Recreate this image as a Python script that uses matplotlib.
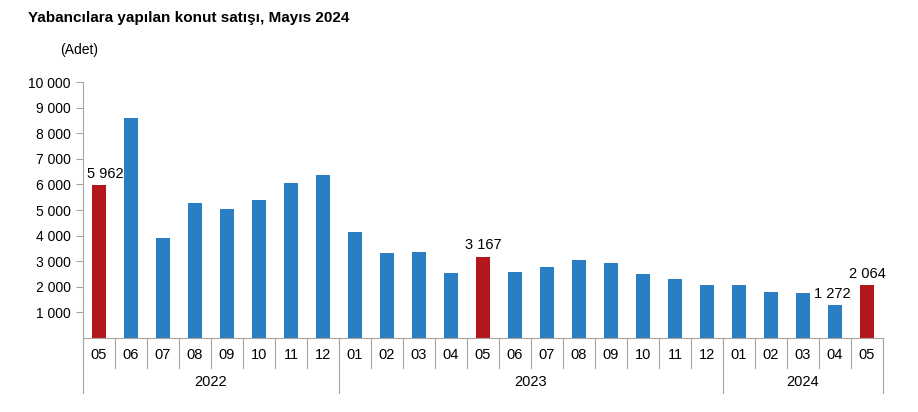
import matplotlib
matplotlib.use("Agg")
import matplotlib.pyplot as plt
import matplotlib.transforms as mtransforms

plt.rcParams['font.family'] = ['Liberation Sans', 'DejaVu Sans']

# Veriler (Adet)
months = ["05", "06", "07", "08", "09", "10", "11", "12",
          "01", "02", "03", "04", "05", "06", "07", "08", "09", "10", "11", "12",
          "01", "02", "03", "04", "05"]
years = ["2022", "2023", "2024"]
year_counts = [8, 12, 5]
sales = [5962, 8600, 3900, 5270, 5040, 5390, 6050, 6370,
         4150, 3320, 3370, 2530, 3167, 2590, 2790, 3040, 2930, 2490, 2300, 2060,
         2070, 1810, 1760, 1272, 2064]
highlight = [0, 12, 24]
labelled = [0, 12, 23, 24]

blue = "#2A7FC4"
red = "#B2181B"
grey = "#A6A6A6"

fig = plt.figure(figsize=(9.18, 4.12), dpi=100)
ax = fig.add_axes([83 / 918, 74 / 412, 800 / 918, 256 / 412])

x = list(range(len(sales)))
colors = [red if i in highlight else blue for i in x]
ax.bar(x, sales, width=0.42, color=colors)

label_shift = {0: 0.2, 23: -0.08}
for i in labelled:
    txt = f"{sales[i]:,}".replace(",", " ")
    ax.text(i + label_shift.get(i, 0), sales[i] + 180, txt, ha="center",
            va="bottom", fontsize=10.5)

ax.set_xlim(-0.5, len(sales) - 0.5)
ax.set_ylim(0, 10000)
ax.set_yticks(range(1000, 10001, 1000))
ax.set_yticklabels([f"{v:,}".replace(",", " ") for v in range(1000, 10001, 1000)],
                   fontsize=10)
ax.tick_params(axis="y", length=5, color=grey, pad=4)
ax.set_xticks([])

for s in ["top", "right"]:
    ax.spines[s].set_visible(False)
ax.spines["left"].set_color(grey)
ax.spines["bottom"].set_color(grey)

# kategori ekseni: ay etiketleri ve ayırıcı çizgiler
trans = mtransforms.blended_transform_factory(ax.transData, ax.transAxes)
for i, m in enumerate(months):
    ax.text(i, -0.065, m, transform=trans, ha="center", va="center", fontsize=10.5)
for i in range(len(months) + 1):
    ax.plot([i - 0.5, i - 0.5], [0, -0.117], transform=trans, color=grey,
            lw=0.8, clip_on=False)

start = 0
for yr, n in zip(years, year_counts):
    ax.plot([start - 0.5, start - 0.5], [0, -0.215], transform=trans, color=grey,
            lw=0.8, clip_on=False)
    ax.text(start + n / 2 - 0.5, -0.17, yr, transform=trans, ha="center",
            va="center", fontsize=10.5)
    start += n
ax.plot([start - 0.5, start - 0.5], [0, -0.215], transform=trans, color=grey,
        lw=0.8, clip_on=False)

fig.text(28 / 918, 1 - 18 / 412, "Yabancılara yapılan konut satışı, Mayıs 2024",
         fontsize=11, fontweight="bold", va="center")
fig.text(60 / 918, 1 - 50 / 412, "(Adet)", fontsize=10, va="center")

fig.savefig("out.png", dpi=100)
